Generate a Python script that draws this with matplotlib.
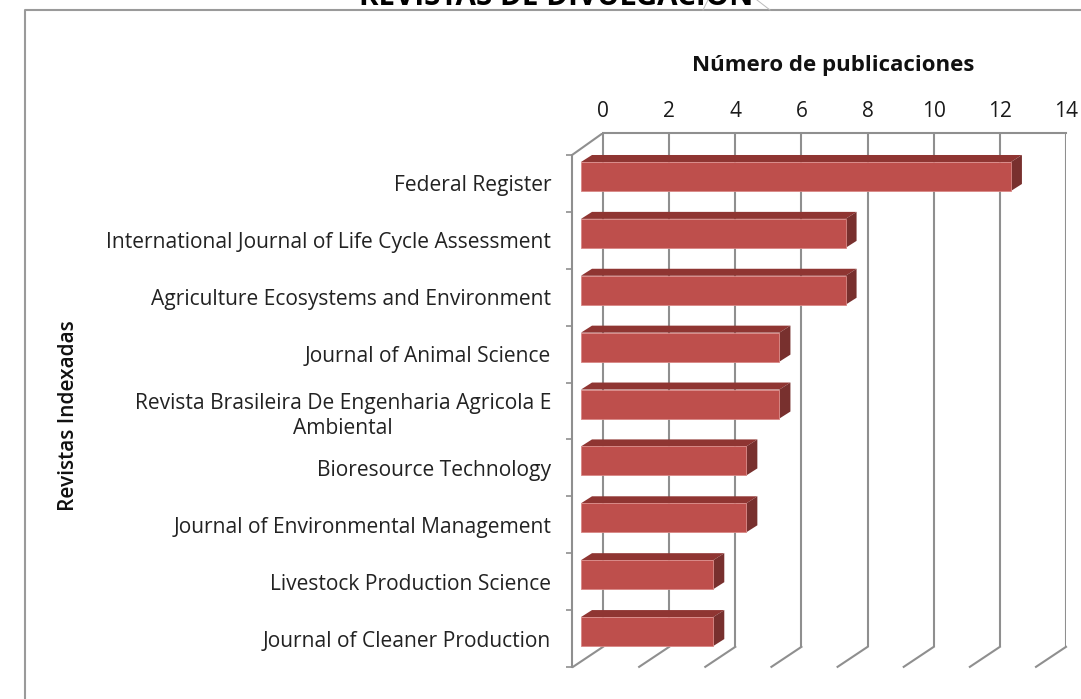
import matplotlib
matplotlib.use("Agg")
import matplotlib.pyplot as plt
from matplotlib.patches import Polygon

journals = ["Federal Register", "International Journal of Life Cycle Assessment",
            "Agriculture Ecosystems and Environment", "Journal of Animal Science",
            "Revista Brasileira De Engenharia Agricola E\nAmbiental", "Bioresource Technology",
            "Journal of Environmental Management", "Livestock Production Science",
            "Journal of Cleaner Production"]
publications = [13, 8, 8, 6, 6, 5, 5, 4, 4]
x_ticks = [0, 2, 4, 6, 8, 10, 12, 14]

W, H = 1081, 699
FONT = "Open Sans"
fig = plt.figure(figsize=(W / 100, H / 100), dpi=100, facecolor="white")

bg = fig.add_axes([0, 0, 1, 1])
bg.set_xlim(0, W); bg.set_ylim(H, 0); bg.axis("off")
bg.plot([25, 25, W], [H, 10, 10], color="#9a9a9a", lw=1.5)
bg.plot([703, 708], [10, 0], color="#bbbbbb", lw=0.7)
bg.plot([770, 757], [10, 0], color="#bbbbbb", lw=0.7)
bg.text(556, -3, "REVISTAS DE DIVULGACION", ha="center", va="center", fontsize=21.3,
        fontweight="bold", family=FONT, color="black", clip_on=False)

L, R, T, B = 572, 1066, 133, 667
ax = fig.add_axes([L / W, 1 - B / H, (R - L) / W, (B - T) / H], facecolor="none")
PX_X = (1066 - 603) / 14
PX_Y = 56.9
CY0 = 183.5
ax.set_xlim(-(603 - L) / PX_X, 14)
ax.set_ylim((B - CY0) / PX_Y, (T - CY0) / PX_Y)

GRID = "#8f8f8f"
WALL_BOTTOM = (647 - CY0) / PX_Y
FLOOR_DX = 30 / PX_X
ybot = (B - CY0) / PX_Y
ax.vlines(x_ticks, (T - CY0) / PX_Y, WALL_BOTTOM, color=GRID, lw=1.5, zorder=1)
for t in x_ticks:
    ax.plot([t - FLOOR_DX, t], [ybot, WALL_BOTTOM], color=GRID, lw=1.5, zorder=1, clip_on=False)
ax.plot([-(603 - L) / PX_X, 0], [-0.5, (T - CY0) / PX_Y], color=GRID, lw=1.5, zorder=1)

for s in ("right", "bottom"):
    ax.spines[s].set_visible(False)
ax.spines["top"].set_bounds(0, 14)
ax.spines["left"].set_bounds(-0.5, ybot)
ax.spines["top"].set_color(GRID); ax.spines["left"].set_color(GRID)
ax.spines["top"].set_linewidth(1.5); ax.spines["left"].set_linewidth(1.5)

ax.xaxis.tick_top()
ax.set_xticks(x_ticks)
ax.set_xticklabels([str(t) for t in x_ticks], family=FONT, fontsize=15, color="#1a1a1a")
ax.tick_params(axis="x", length=0, pad=8)
ax.set_yticks(range(len(journals)))
ax.set_yticklabels(journals, family=FONT, fontsize=15.1, color="#222222", ma="center", linespacing=1.25)
ax.tick_params(axis="y", which="major", length=0, pad=15)
ax.set_yticks([i - 0.5 for i in range(len(journals) + 1)], minor=True)
ax.tick_params(axis="y", which="minor", length=4, width=1.2, color=GRID)

x0 = -(603 - L) / PX_X + 9 / PX_X
ytop, ybar = -21.5 / PX_Y, 7.5 / PX_Y
dx, dy = 11 / PX_X, 7 / PX_Y
for i, v in enumerate(publications):
    x1 = x0 + v
    y0, y1 = i + ytop, i + ybar
    ax.add_patch(Polygon([(x0, y0), (x0 + dx, y0 - dy), (x1 + dx, y0 - dy), (x1, y0)],
                         fc="#8F3532", ec="none", zorder=3))
    ax.add_patch(Polygon([(x1, y0), (x1 + dx, y0 - dy), (x1 + dx, y1 - dy), (x1, y1)],
                         fc="#78302E", ec="none", zorder=3))
    ax.add_patch(Polygon([(x0, y0), (x1, y0), (x1, y1), (x0, y1)],
                         fc="#BE4F4C", ec="#D98885", lw=0.6, zorder=4))

bg.text(833, 66, "Número de publicaciones", ha="center", va="center", fontsize=16,
        fontweight="bold", family=FONT, color="#111111")
bg.text(69, 416, "Revistas Indexadas", ha="center", va="center", rotation=90, fontsize=15,
        family=FONT, fontweight="semibold", color="#111111")

fig.savefig("out.png", dpi=100)
